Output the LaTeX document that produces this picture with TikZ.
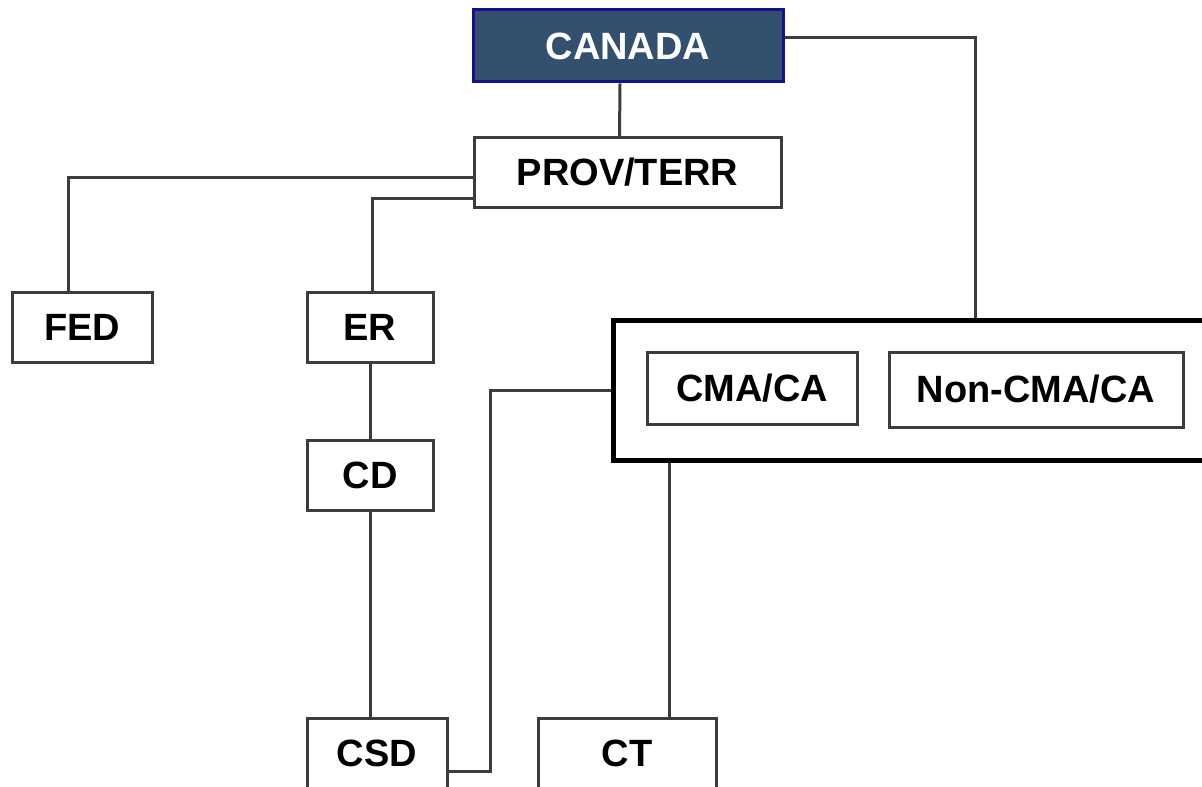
\documentclass[tikz,border=0pt]{standalone}
\usepackage{fontspec}
\setmainfont{Liberation Sans}
\usetikzlibrary{calc}

\definecolor{navyfill}{HTML}{33506F}
\definecolor{navyline}{HTML}{12128A}
\definecolor{wire}{HTML}{3C3C3C}

\tikzset{
  unit/.style={draw=wire, line width=1.5pt, fill=white, inner sep=0pt,
    font=\fontsize{19}{22}\selectfont\bfseries},
  top/.style={unit, draw=navyline, fill=navyfill, text=white},
  group/.style={draw=black, line width=2.5pt, fill=white, inner sep=0pt},
  link/.style={draw=wire, line width=1.5pt}
}

\begin{document}
\begin{tikzpicture}[x=0.5pt,y=-0.5pt]
  \clip (0,0) rectangle (1202,786);
  \fill[white] (0,0) rectangle (1202,786);

  \node[top, minimum width=155pt, minimum height=36pt] (canada) at (628,46) {CANADA};
  \node[unit, minimum width=153.5pt, minimum height=34.5pt] (prov) at (627.5,172.5) {PROV/TERR};
  \node[unit, minimum width=70pt, minimum height=35pt] (fed) at (82,327) {FED};
  \node[unit, minimum width=63pt, minimum height=35pt] (er) at (370,327) {ER};
  \node[unit, minimum width=63pt, minimum height=35pt] (cd) at (370,475) {CD};
  \node[unit, minimum width=70pt, minimum height=35pt] (csd) at (377,753) {CSD};
  \node[unit, minimum width=89pt, minimum height=35pt] (ct) at (627,753) {CT};

  \node[group, minimum width=301pt, minimum height=70pt] (bigbox) at (914,390) {};
  \node[unit, minimum width=105pt, minimum height=36pt] (cma) at (752,388) {CMA/CA};
  \node[unit, minimum width=147pt, minimum height=37.5pt] (noncma) at (1036,389.5) {Non-CMA/CA};

  \draw[link] ([xshift=-4pt]canada.south) -- ([xshift=-4pt]prov.north);
  \draw[link] ([yshift=4pt]canada.east) -| ([xshift=30.5pt]bigbox.north);
  \draw[link] ([yshift=-2.75pt]prov.west) -| ([xshift=-7pt]fed.north);
  \draw[link] ([yshift=-12.75pt]prov.west) -| ([xshift=1pt]er.north);
  \draw[link] (er.south) -- (cd.north);
  \draw[link] (cd.south) -- (cd.south |- csd.north);
  \draw[link] ([yshift=-9pt]csd.east) -- ++(42,0) |- (bigbox.west);
  \draw[link] ([xshift=21pt]ct.north) -- ([xshift=21pt]ct.north |- bigbox.south);
\end{tikzpicture}
\end{document}
